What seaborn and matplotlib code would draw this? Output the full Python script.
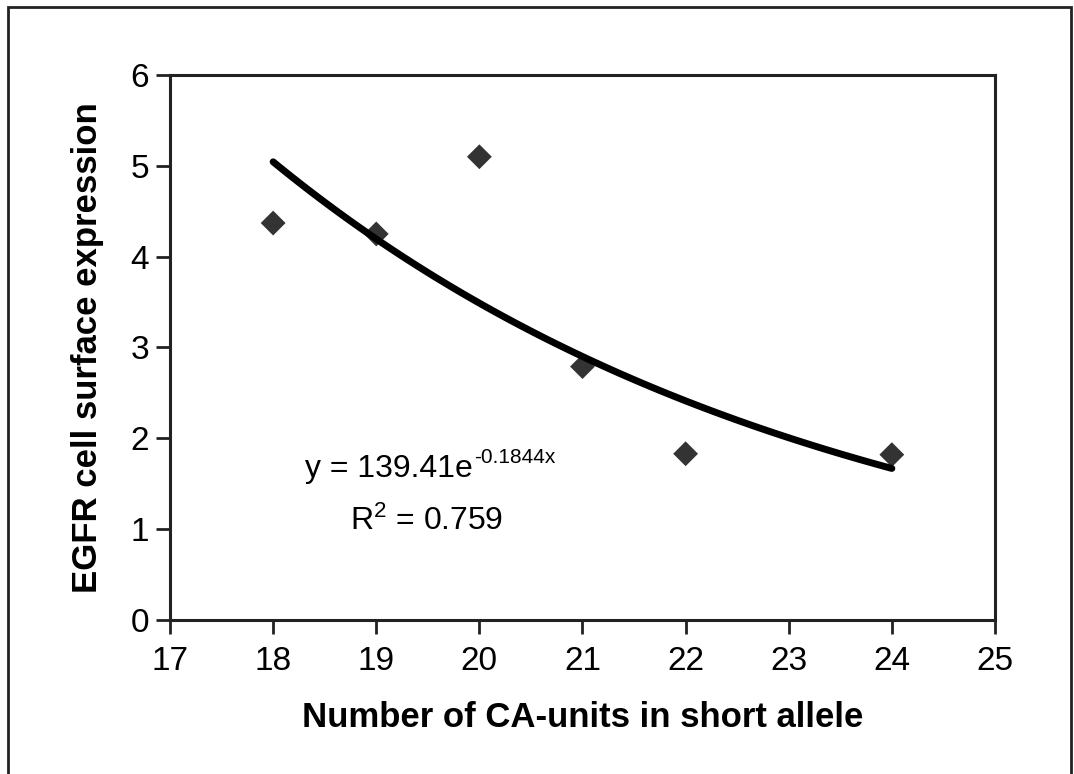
import numpy as np
import pandas as pd
import matplotlib
matplotlib.use("Agg")
import matplotlib.pyplot as plt
import seaborn as sns

# ============================================================
# DATA
# ============================================================

ca_units = [18, 19, 20, 21, 22, 24]
egfr_expr = [4.37, 4.25, 5.10, 2.79, 1.83, 1.82]

fit_a = 139.41
fit_b = -0.1844
fit_r2 = 0.759

x_ticks = [17, 18, 19, 20, 21, 22, 23, 24, 25]
y_ticks = [0, 1, 2, 3, 4, 5, 6]

df = pd.DataFrame({"ca": ca_units, "egfr": egfr_expr})

# trend line from the fitted equation
fit_x = np.linspace(min(ca_units), max(ca_units), 100)
fit_df = pd.DataFrame({"ca": fit_x, "egfr": fit_a * np.exp(fit_b * fit_x)})

# ============================================================
# STYLE
# ============================================================

sns.set_style("white")
plt.rcParams["font.family"] = ["Liberation Sans", "DejaVu Sans"]
plt.rcParams["text.color"] = "black"
plt.rcParams["axes.labelcolor"] = "black"
plt.rcParams["xtick.color"] = "black"
plt.rcParams["ytick.color"] = "black"

fig = plt.figure(figsize=(10.74, 7.74), dpi=100)
ax = fig.add_axes([0.1583, 0.1990, 0.7681, 0.7041])

# ============================================================
# PLOT
# ============================================================

sns.scatterplot(data=df, x="ca", y="egfr", marker="D", s=160,
                color="#333333", edgecolor="none", ax=ax, zorder=3)

sns.lineplot(data=fit_df, x="ca", y="egfr", color="black",
             linewidth=5, ax=ax, zorder=4)

ax.set_xlim(17, 25)
ax.set_ylim(0, 6)
ax.set_xticks(x_ticks)
ax.set_yticks(y_ticks)

ax.tick_params(axis="both", direction="out", length=10, width=2,
               labelsize=24, color="#222222", bottom=True, left=True)
ax.tick_params(axis="x", pad=9)
ax.tick_params(axis="y", pad=5)

for side in ["top", "right", "bottom", "left"]:
    ax.spines[side].set_visible(True)
    ax.spines[side].set_linewidth(2.2)
    ax.spines[side].set_color("#222222")

ax.set_xlabel("Number of CA-units in short allele", fontsize=25,
              fontweight="bold", labelpad=17)
ax.set_ylabel("EGFR cell surface expression", fontsize=25,
              fontweight="bold", labelpad=19)

# fitted equation, base text and a small exponent
ax.text(19.94, 1.575, f"y = {fit_a}e", fontsize=23,
        ha="right", va="baseline")
ax.text(19.95, 1.73, f"{fit_b}x", fontsize=15,
        ha="left", va="baseline")
ax.text(19.49, 0.99, f"$\\mathregular{{R^2}}$ = {fit_r2}", fontsize=23,
        ha="center", va="baseline")

# outer frame round the figure
frame = plt.Rectangle((0.007, -0.05), 0.990, 1.041, transform=fig.transFigure,
                      fill=False, edgecolor="#222222", linewidth=2)
fig.patches.append(frame)

fig.savefig("out.png", dpi=100)
